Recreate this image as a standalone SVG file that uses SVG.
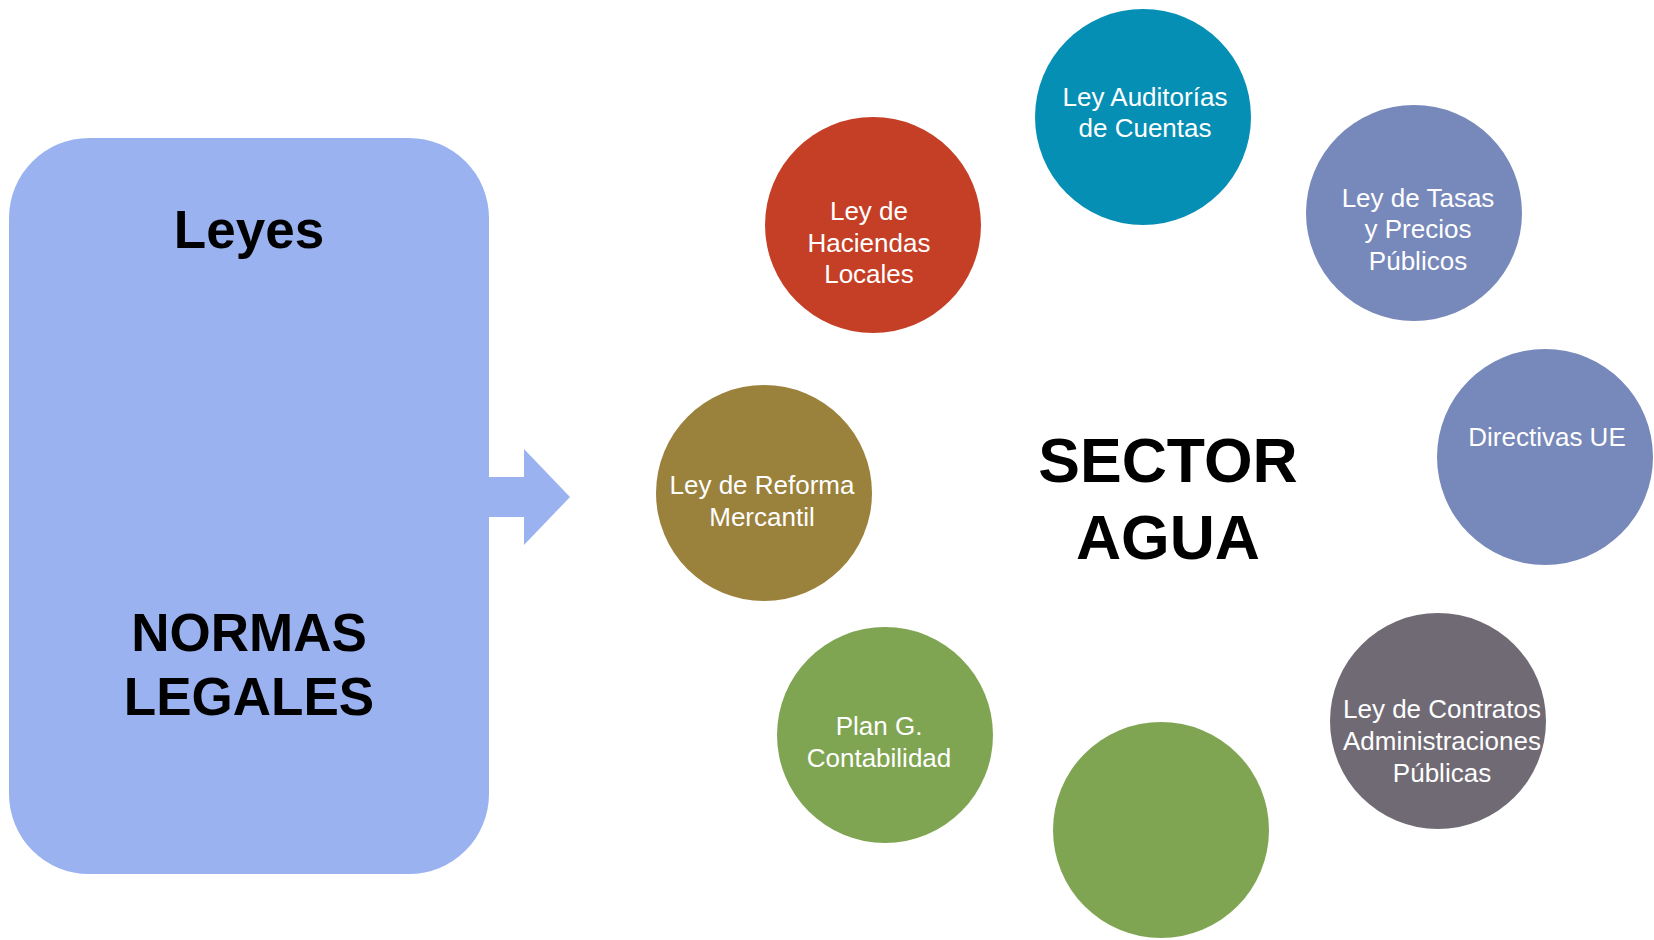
<svg xmlns="http://www.w3.org/2000/svg" width="1654" height="940" viewBox="0 0 1654 940">
<style>
.lbl{font-family:"Liberation Sans",Arial,sans-serif;font-size:26px;fill:#ffffff;text-anchor:middle}
.big{font-family:"Liberation Sans",Arial,sans-serif;font-weight:bold;fill:#000000;text-anchor:middle}
</style>
<rect width="1654" height="940" fill="#ffffff"/>
<g id="normas">
<rect x="9" y="138" width="480" height="736" rx="80" ry="80" fill="#9AB2F0"/>
<text class="big" x="249" y="248" font-size="53">Leyes</text>
<text class="big" x="249" y="651" font-size="53">NORMAS</text>
<text class="big" x="249" y="715" font-size="53">LEGALES</text>
</g>
<g id="connectors">
<polygon points="488,477 524,477 524,449 570,497 524,545 524,517 488,517" fill="#9AB2F0"/>
</g>
<g id="sector">
<text class="big" x="1168" y="482" font-size="62.5">SECTOR</text>
<text class="big" x="1168" y="559" font-size="62.5">AGUA</text>
</g>
<g id="auditorias">
<circle cx="1143" cy="117" r="108" fill="#058FB4"/>
<text class="lbl" x="1145" y="106">Ley Auditorías</text>
<text class="lbl" x="1145" y="137">de Cuentas</text>
</g>
<g id="haciendas">
<circle cx="873" cy="225" r="108" fill="#C53F26"/>
<text class="lbl" x="869" y="220">Ley de</text>
<text class="lbl" x="869" y="252">Haciendas</text>
<text class="lbl" x="869" y="283">Locales</text>
</g>
<g id="tasas">
<circle cx="1414" cy="213" r="108" fill="#7788BA"/>
<text class="lbl" x="1418" y="207">Ley de Tasas</text>
<text class="lbl" x="1418" y="238">y Precios</text>
<text class="lbl" x="1418" y="270">Públicos</text>
</g>
<g id="directivas">
<circle cx="1545" cy="457" r="108" fill="#7788BA"/>
<text class="lbl" x="1547" y="446">Directivas UE</text>
</g>
<g id="mercantil">
<circle cx="764" cy="493" r="108" fill="#9A813C"/>
<text class="lbl" x="762" y="494">Ley de Reforma</text>
<text class="lbl" x="762" y="526">Mercantil</text>
</g>
<g id="contabilidad">
<circle cx="885" cy="735" r="108" fill="#7FA553"/>
<text class="lbl" x="879" y="735">Plan G.</text>
<text class="lbl" x="879" y="767">Contabilidad</text>
</g>
<g id="verde">
<circle cx="1161" cy="830" r="108" fill="#7FA553"/>
</g>
<g id="contratos">
<circle cx="1438" cy="721" r="108" fill="#706A75"/>
<text class="lbl" x="1442" y="718">Ley de Contratos</text>
<text class="lbl" x="1442" y="750">Administraciones</text>
<text class="lbl" x="1442" y="782">Públicas</text>
</g>
</svg>
